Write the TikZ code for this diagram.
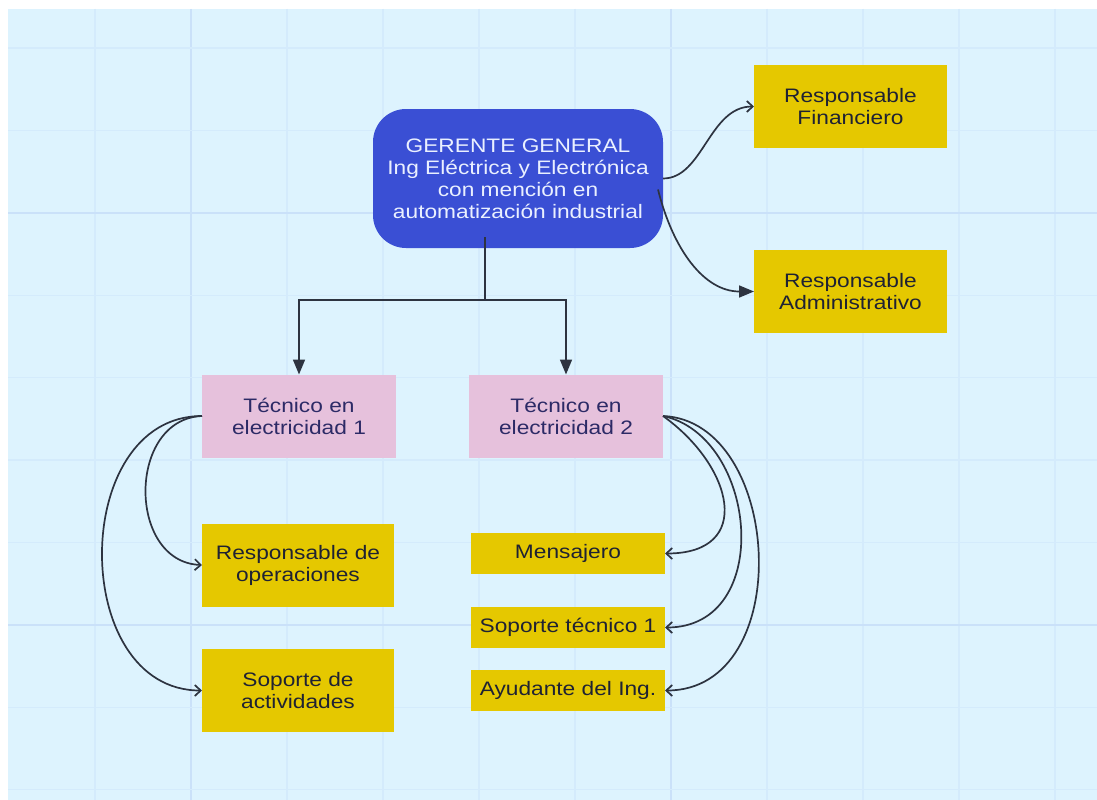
\documentclass[tikz,border=0pt]{standalone}
\usepackage{fontspec}
\setmainfont{Liberation Sans}[FakeStretch=1.165]
\usetikzlibrary{arrows.meta,calc}

\definecolor{canvas}{HTML}{DDF3FE}
\definecolor{gridweak}{HTML}{D4EBFC}
\definecolor{gridstrong}{HTML}{CAE1F9}
\definecolor{bossblue}{HTML}{3A4FD4}
\definecolor{gold}{HTML}{E5C800}
\definecolor{rose}{HTML}{E6C1DC}
\definecolor{ink}{HTML}{2D3340}
\definecolor{bosstext}{HTML}{EAF0FF}
\definecolor{goldtext}{HTML}{1F2233}
\definecolor{rosetext}{HTML}{2C2A66}

\begin{document}
\begin{tikzpicture}[x=1pt,y=-1pt,
  box/.style={rectangle, inner sep=0pt, outer sep=0pt, align=center,
    font=\fontsize{19.5}{22}\selectfont},
  bossbox/.style={box, fill=bossblue, text=bosstext, rounded corners=33pt,
    minimum width=290pt, minimum height=139pt},
  goldbox/.style={box, fill=gold, text=goldtext},
  rosebox/.style={box, fill=rose, text=rosetext, minimum width=194pt, minimum height=83pt},
  link/.style={draw=ink, line width=1.7pt},
  openarrow/.style={link, -{Straight Barb[length=6pt,width=11pt]}},
  fillarrow/.style={link, -{Triangle[length=15pt,width=12pt]}}
]
% page and canvas
\useasboundingbox (0,0) rectangle (1097,800);
\fill[white] (0,0) rectangle (1097,800);
\fill[canvas] (8,9) rectangle (1097,800);

% background grid
\foreach \gx in {95,287,383,479,575,767,863,959,1055}
  \draw[gridweak, line width=1.4pt] (\gx,9) -- (\gx,800);
\foreach \gx in {191,671}
  \draw[gridstrong, line width=2pt] (\gx,9) -- (\gx,800);
\foreach \k in {0,1,3,4,5,6,8,9}{
  \pgfmathsetmacro\gy{48+82.4*\k}
  \draw[gridweak, line width=1.4pt] (8,\gy) -- (1097,\gy);
}
\foreach \k in {2,7}{
  \pgfmathsetmacro\gy{48+82.4*\k}
  \draw[gridstrong, line width=2pt] (8,\gy) -- (1097,\gy);
}

% boxes
\node[bossbox] (G) at (518,178.5) {GERENTE GENERAL\\Ing Eléctrica y Electrónica\\con mención en\\automatización industrial};
\node[goldbox, minimum width=193pt, minimum height=83pt] (RF) at (850.5,106.5) {Responsable\\Financiero};
\node[goldbox, minimum width=193pt, minimum height=83pt] (RA) at (850.5,291.5) {Responsable\\Administrativo};
\node[rosebox] (T1) at (299,416) {Técnico en\\electricidad 1};
\node[rosebox] (T2) at (566,416) {Técnico en\\electricidad 2};
\node[goldbox, minimum width=192pt, minimum height=83pt] (RO) at (298,565) {Responsable de\\operaciones};
\node[goldbox, minimum width=192pt, minimum height=83pt] (SA) at (298,690.5) {Soporte de\\actividades};
\node[goldbox, minimum width=194pt, minimum height=41pt] (M) at (568,553.5) {Mensajero};
\node[goldbox, minimum width=194pt, minimum height=41pt] (ST) at (568,627.5) {Soporte técnico 1};
\node[goldbox, minimum width=194pt, minimum height=41pt] (AI) at (568,690.5) {Ayudante del Ing.};

% manager to the two technicians
\coordinate (gs) at ($(G.south)+(-33,-11)$);
\coordinate (jn) at ($(gs)+(0,63)$);
\draw[link] (gs) -- (jn);
\draw[fillarrow] (jn) -| (T1.north);
\draw[fillarrow] (jn) -| (T2.north);

% manager to the two heads
\draw[openarrow] (G.east) .. controls +(40,0) and +(-45,0) .. (RF.west);
\draw[fillarrow] ($(G.east)+(-5,11)$) .. controls +(15,60) and +(-50,0) .. (RA.west);

% technician 1 subordinates
\draw[openarrow] (T1.west) .. controls +(-75,3) and +(-75,-3) .. (RO.west);
\draw[openarrow] (T1.west) .. controls +(-133,0) and +(-133,0) .. (SA.west);

% technician 2 subordinates
\draw[openarrow] (T2.east) .. controls +(70,50) and +(90,0) .. (M.east);
\draw[openarrow] (T2.east) .. controls +(95,20) and +(110,0) .. (ST.east);
\draw[openarrow] (T2.east) .. controls +(120,5) and +(132,0) .. (AI.east);
\end{tikzpicture}
\end{document}
